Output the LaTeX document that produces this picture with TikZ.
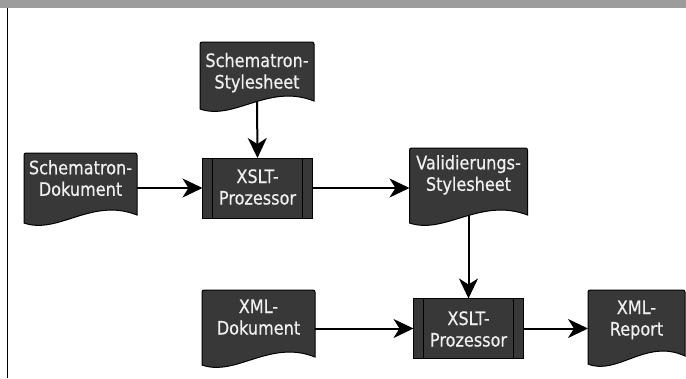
\documentclass[tikz,border=0pt]{standalone}
\usepackage{fontspec}
\newfontfamily\lblfont{DejaVu Sans}[FakeStretch=0.87,FakeBold=0.5]
\usetikzlibrary{calc,arrows.meta,backgrounds}
\definecolor{shapefill}{HTML}{383838}
\definecolor{txt}{HTML}{F0F0F0}
\definecolor{band}{HTML}{9C9C9C}
\tikzset{
  lbl/.style={font={\lblfont\fontsize{18.5pt}{21.5pt}\selectfont}, text=txt, align=center,
    text height=34.5pt, outer sep=0pt, inner sep=0pt},
  proc/.style={lbl, draw=black, line width=1pt, fill=shapefill,
    minimum width=110pt, minimum height=60pt,
    path picture={\draw[line width=0.8pt]
      ([xshift=10pt]path picture bounding box.north west) -- ([xshift=10pt]path picture bounding box.south west)
      ([xshift=-10pt]path picture bounding box.north east) -- ([xshift=-10pt]path picture bounding box.south east);}},
  docfill/.style={draw=black, line width=1pt, fill=shapefill},
  conn/.style={line width=2pt, -{Stealth[length=20pt,width=19pt,inset=6pt]}},
}
\newcommand\docbody[1]{%
  \begin{pgfonlayer}{background}
  \filldraw[docfill] (#1.south east) [rounded corners=2pt] -- (#1.north east) -- (#1.north west) [sharp corners]
    -- ($(#1.south west)+(0,8)$)
    .. controls ($(#1.south west)!0.3!(#1.south east)+(0,20)$) and ($(#1.south west)!0.6!(#1.south east)+(0,-18)$)
    .. (#1.south east) -- cycle;
  \end{pgfonlayer}}
\begin{document}
\begin{tikzpicture}[x=1pt,y=-1pt]
\useasboundingbox (0,0) rectangle (686,378);
\fill[band] (0,0) rectangle (686,8);
\draw[line width=1.3pt] (7.5,8) -- (7.5,378);

% document shapes
\node[lbl, minimum width=114pt, minimum height=59pt, text depth=0.5pt] (ss) at (257,71.5) {Schematron-\\Stylesheet};
\docbody{ss}
\node[lbl, minimum width=113pt, minimum height=62pt, text depth=11pt] (sdok) at (80.5,184) {Schematron-\\Dokument};
\docbody{sdok}
\node[lbl, minimum width=118pt, minimum height=67pt, text depth=16pt] (val) at (468.5,181.5) {Validierungs-\\Stylesheet};
\docbody{val}
\node[lbl, minimum width=113pt, minimum height=67pt, text depth=12.5pt] (xdok) at (258.5,323.5) {XML-\\Dokument};
\docbody{xdok}
\node[lbl, minimum width=97pt, minimum height=66pt, text depth=9.5pt] (rep) at (636.5,323) {XML-\\Report};
\docbody{rep}

% processes
\node[proc, text depth=1.5pt] (xa) at (257.5,188) {XSLT-\\Prozessor};
\node[proc, text height=36pt, text depth=0pt] (xb) at (468.5,328.5) {XSLT-\\Prozessor};

% connectors
\draw[conn] (ss.south) -- (xa.north);
\draw[conn] (sdok.east |- xa.west) -- (xa.west);
\draw[conn] (xa.east) -- (val.west |- xa.east);
\draw[conn] (val.south) -- (xb.north);
\draw[conn] (xdok.east |- xb.west) -- (xb.west);
\draw[conn] (xb.east) -- (rep.west |- xb.east);
\end{tikzpicture}
\end{document}
